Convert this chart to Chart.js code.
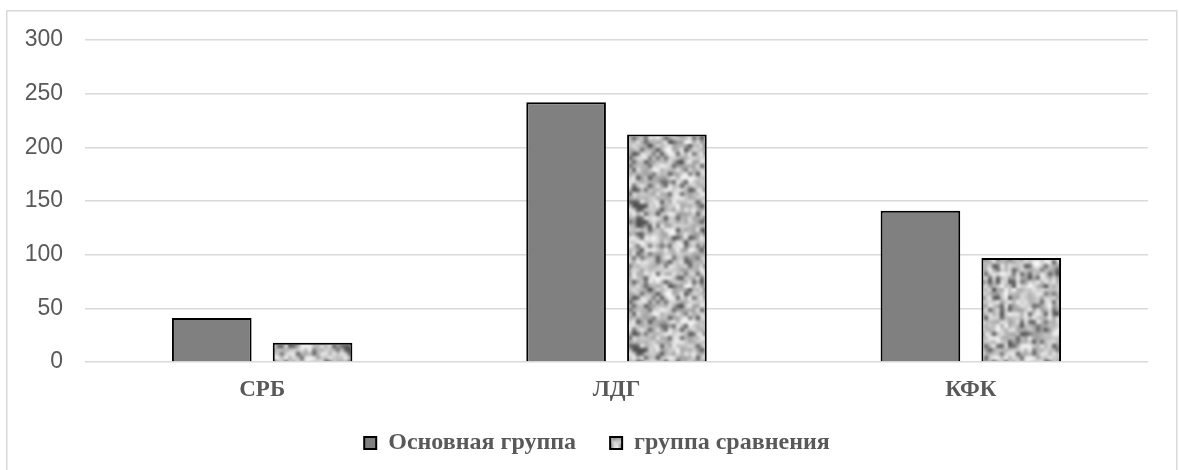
<!DOCTYPE html>
<html>
<head>
<meta charset="utf-8">
<script src="https://cdn.jsdelivr.net/npm/chart.js@4.4.1/dist/chart.umd.min.js"></script>
<style>
  html, body { margin: 0; padding: 0; background: #ffffff; }
  #chart { display: block; }
</style>
</head>
<body>
<canvas id="chart" width="1179" height="470"></canvas>
<script>
// Categories, series and axis ticks
const categories = ['СРБ', 'ЛДГ', 'КФК'];
const mainGroup = [41, 242, 141];
const comparisonGroup = [18, 212, 97];
const seriesNames = ['Основная группа', 'группа сравнения'];
const yTicks = [0, 50, 100, 150, 200, 250, 300];

// Deterministic speckle generator for the granite-like fill
function seeded(seed) {
  return function () {
    seed |= 0; seed = seed + 0x6D2B79F5 | 0;
    let t = Math.imul(seed ^ seed >>> 15, 1 | seed);
    t = t + Math.imul(t ^ t >>> 7, 61 | t) ^ t;
    return ((t ^ t >>> 14) >>> 0) / 4294967296;
  };
}

function granitePattern() {
  const rnd = seeded(20240517);
  const cells = 36, scale = 4, size = cells * scale;
  const small = document.createElement('canvas');
  small.width = cells; small.height = cells;
  const sctx = small.getContext('2d');
  const img = sctx.createImageData(cells, cells);
  for (let i = 0; i < cells * cells; i++) {
    const r = rnd();
    let v;
    if (r < 0.18) v = 60 + rnd() * 50;
    else if (r < 0.42) v = 220 + rnd() * 35;
    else v = 155 + rnd() * 60;
    img.data[i * 4] = v; img.data[i * 4 + 1] = v; img.data[i * 4 + 2] = v; img.data[i * 4 + 3] = 255;
  }
  sctx.putImageData(img, 0, 0);

  // tile 3x3 so the blur wraps seamlessly
  const wide = document.createElement('canvas');
  wide.width = size * 3; wide.height = size * 3;
  const wctx = wide.getContext('2d');
  wctx.imageSmoothingEnabled = true;
  for (let a = 0; a < 3; a++) for (let b = 0; b < 3; b++) {
    wctx.drawImage(small, a * size, b * size, size, size);
  }
  const tile = document.createElement('canvas');
  tile.width = size; tile.height = size;
  const tctx = tile.getContext('2d');
  tctx.filter = 'blur(0.9px)';
  tctx.drawImage(wide, -size, -size);
  return tctx.createPattern(tile, 'repeat');
}

const ctx = document.getElementById('chart').getContext('2d');
const texture = granitePattern();

// Light frame around the whole figure
const framePlugin = {
  id: 'frame',
  beforeDraw(chart) {
    const c = chart.ctx;
    c.save();
    c.fillStyle = '#ffffff';
    c.fillRect(0, 0, chart.width, chart.height);
    c.strokeStyle = '#d9d9d9';
    c.lineWidth = 1.5;
    c.strokeRect(6.75, 10.75, 1170, 480);
    c.restore();
  }
};

// Centre the legend row on the frame rather than on the plot column
const legendShift = {
  id: 'legendShift',
  afterLayout(chart) {
    const lg = chart.legend;
    if (lg) { lg.left += 23; lg.right += 23; }
  }
};

const serifBold = { family: '"Liberation Serif", "Times New Roman", serif', size: 23, weight: 'bold' };

new Chart(ctx, {
  type: 'bar',
  data: {
    labels: categories,
    datasets: [
      {
        label: seriesNames[0] + '\u2003',
        data: mainGroup,
        backgroundColor: '#808080',
        borderColor: '#000000',
        borderWidth: 2,
        categoryPercentage: 0.569,
        barPercentage: 0.79
      },
      {
        label: seriesNames[1],
        data: comparisonGroup,
        backgroundColor: texture,
        borderColor: '#000000',
        borderWidth: 2,
        categoryPercentage: 0.569,
        barPercentage: 0.79
      }
    ]
  },
  options: {
    responsive: false,
    animation: false,
    devicePixelRatio: 1,
    layout: { padding: { top: 40, right: 31, bottom: 5, left: 0 } },
    plugins: {
      tooltip: { enabled: false },
      legend: {
        position: 'bottom',
        labels: {
          color: '#595959',
          font: { family: '"Liberation Serif", "Times New Roman", serif', size: 24, weight: 'bold' },
          boxWidth: 12,
          boxHeight: 12,
          padding: 10
        }
      }
    },
    scales: {
      x: {
        grid: { display: false, drawTicks: false },
        border: { display: false },
        ticks: { color: '#595959', padding: 14, font: serifBold },
        afterFit(scale) { scale.height = 59; }
      },
      y: {
        min: 0,
        max: 300,
        afterBuildTicks(scale) { scale.ticks = yTicks.map(v => ({ value: v })); },
        grid: { color: '#d9d9d9', lineWidth: 1.5, drawTicks: false },
        border: { display: false },
        ticks: {
          color: '#595959',
          padding: 22,
          font: { family: '"Liberation Sans", Arial, sans-serif', size: 23 }
        },
        afterFit(scale) { scale.width = 85; }
      }
    }
  },
  plugins: [framePlugin, legendShift]
});
</script>
</body>
</html>
